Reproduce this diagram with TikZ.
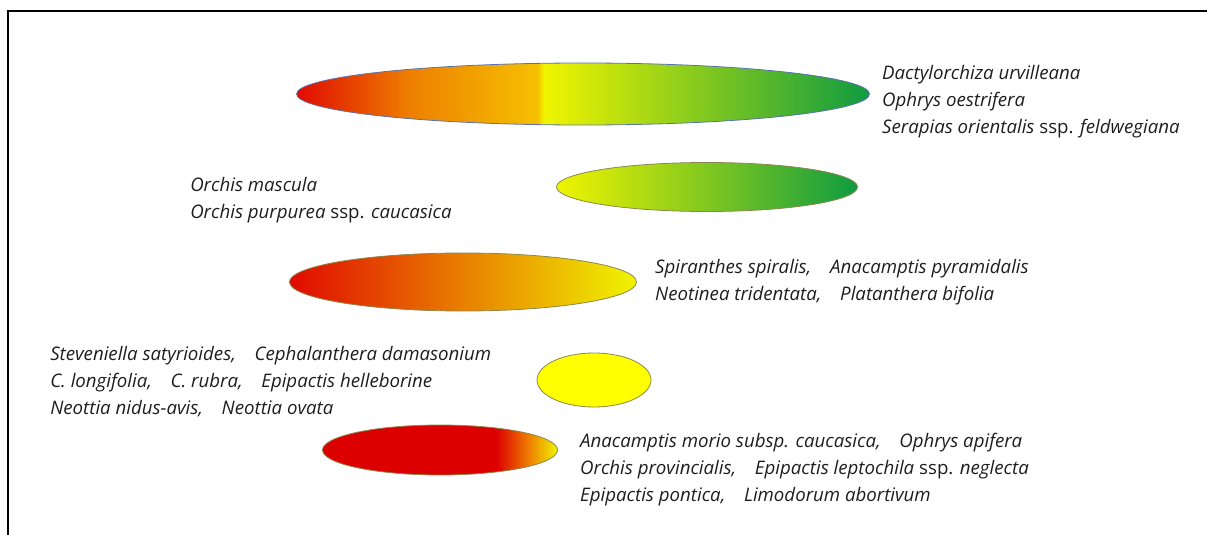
\documentclass[tikz,border=0pt]{standalone}
\usepackage{fontspec}
\setmainfont{Open Sans}
\usetikzlibrary{positioning,shapes.geometric}
\definecolor{bandred}{RGB}{224,10,0}
\definecolor{deepred}{RGB}{220,0,0}
\definecolor{bandorange}{RGB}{238,128,0}
\definecolor{bandamber}{RGB}{245,192,0}
\definecolor{bandyellow}{RGB}{240,244,0}
\definecolor{bandgreen}{RGB}{16,155,64}
\definecolor{puregold}{RGB}{255,255,0}
\definecolor{rimblue}{RGB}{90,115,175}
\definecolor{rimolive}{RGB}{140,135,80}
\definecolor{textgray}{RGB}{30,30,30}
\pgfdeclarehorizontalshading{fullrange}{100bp}{color(0bp)=(bandred); color(25bp)=(bandred); color(35bp)=(bandorange); color(46bp)=(bandamber); color(46.6bp)=(bandyellow); color(75bp)=(bandgreen); color(100bp)=(bandgreen)}
\pgfdeclarehorizontalshading{redtail}{100bp}{color(0bp)=(deepred); color(62bp)=(deepred); color(69bp)=(bandorange); color(75bp)=(bandyellow); color(100bp)=(bandyellow)}
\tikzset{
  blob/.style={
    ellipse,
    draw=rimolive,
    line width=0.6pt,
    inner sep=0pt
  },
  names/.style={
    align=left,
    inner sep=0pt,
    text=textgray,
    font=\fontsize{14pt}{20.25pt}\selectfont\itshape
  }
}

\begin{document}
\begin{tikzpicture}[x=0.75pt, y=-0.75pt, node distance=9pt]
    \useasboundingbox (0,0) rectangle (1207,535);
    \draw[line width=2.2pt, black] (8,535) -- (8,11) -- (1207,11);
    \node[blob, shade, shading=fullrange, draw=rimblue, minimum width=429.75pt, minimum height=46.5pt] (e1) at (583,94) {};
    \node[blob, left color=bandyellow, right color=bandgreen, minimum width=225.75pt, minimum height=36.75pt] (e2) at (707,187) {};
    \node[blob, left color=bandred, middle color=bandorange, right color=bandyellow, minimum width=260.25pt, minimum height=43.5pt] (e3) at (463,282) {};
    \node[blob, fill=puregold, minimum width=85.5pt, minimum height=40.5pt] (e4) at (594,380) {};
    \node[blob, shade, shading=redtail, minimum width=176.25pt, minimum height=37.5pt] (e5) at (440,450) {};
    \node[names, right=9pt of e1, yshift=-5.5pt] (t1) {Dactylorchiza urvilleana\\Ophrys oestrifera\\Serapias orientalis \textup{ssp.} feldwegiana};
    \node[names, anchor=west] (t2) at (190,200) {Orchis mascula\\Orchis purpurea \textup{ssp.} caucasica};
    \node[names, right=13.5pt of e3] (t3) {Spiranthes spiralis,\quad Anacamptis pyramidalis\\Neotinea tridentata,\quad Platanthera bifolia};
    \node[names, anchor=west] (t4) at (50,382) {Steveniella satyrioides,\quad Cephalanthera damasonium\\C. longifolia,\quad C. rubra,\quad Epipactis helleborine\\Neottia nidus-avis,\quad Neottia ovata};
    \node[names, right=16.5pt of e5, yshift=-15pt] (t5) {Anacamptis morio subsp. caucasica,\quad Ophrys apifera\\Orchis provincialis,\quad Epipactis leptochila \textup{ssp.} neglecta\\Epipactis pontica,\quad Limodorum abortivum};
  \end{tikzpicture}
\end{document}
